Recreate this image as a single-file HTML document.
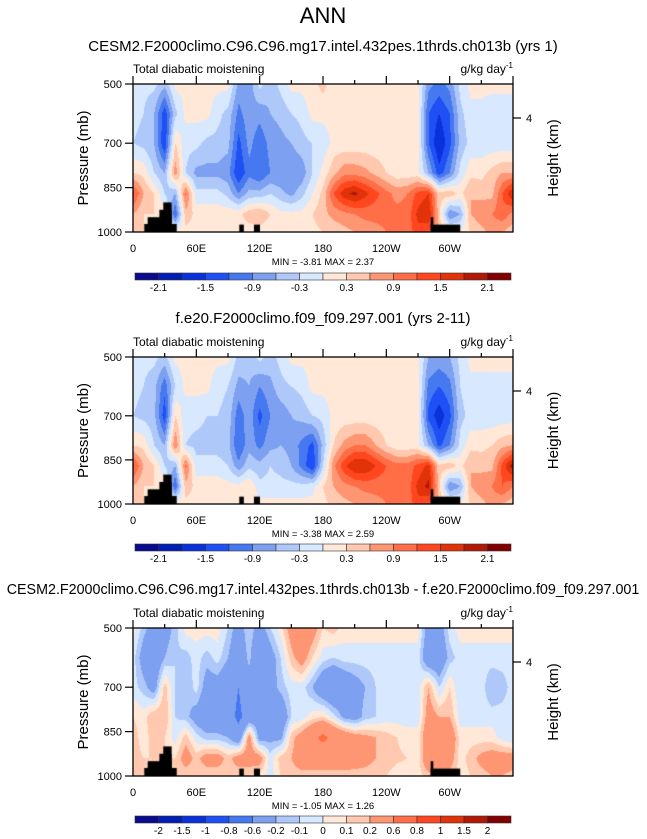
<!DOCTYPE html>
<html><head><meta charset="utf-8">
<style>
html,body{margin:0;padding:0;background:#fff;}
body{width:647px;height:839px;position:relative;overflow:hidden;font-family:"Liberation Sans",sans-serif;}
canvas{position:absolute;}
svg{position:absolute;left:0;top:0;}
</style></head>
<body>
<canvas id="c0" width="380" height="148" style="left:133px;top:84px"></canvas>
<canvas id="c1" width="380" height="147" style="left:133px;top:357px"></canvas>
<canvas id="c2" width="380" height="148" style="left:133px;top:628px"></canvas>
<svg id="ov" width="647" height="839">
<text x="323" y="23" font-size="22" text-anchor="middle">ANN</text>
</svg>
<script>
// ---- data ----
const lons = [0,10,20,30,40,50,60,70,80,90,100,110,120,130,140,150,160,170,180,190,200,210,220,230,240,250,260,270,280,290,300,310,320,330,340,350,360];
const pres = [500,600,700,800,870,940,1000];
const field1 = [
[-0.2,-0.2,-0.2,-0.5,0.1,0.1,0.1,0.1,0.1,0.1,-0.7,-0.8,-0.2,-0.5,-0.2,0.1,0.1,0.2,0.4,0.1,0.1,0.1,0.1,0.1,0.1,0.1,0.1,0.1,-0.8,-1.0,-0.8,-0.2,0.1,0.1,0.1,0.1,0.1],
[-0.2,-0.3,-0.6,-1.4,-0.4,0.1,0.1,0.1,-0.2,-0.4,-1.0,-0.7,-0.8,-0.6,-0.5,-0.3,-0.2,0.1,0.1,0.1,0.1,0.1,0.1,0.1,0.1,0.1,0.1,0.1,-1.2,-1.5,-1.2,-0.4,-0.1,-0.1,-0.2,-0.2,-0.2],
[-0.3,-0.4,-0.6,-1.5,0.3,-0.2,-0.2,-0.4,-0.4,-0.5,-1.3,-0.8,-1.1,-0.8,-0.7,-0.6,-0.4,-0.3,-0.2,0.1,0.1,0.1,0.1,0.1,0.1,0.1,0.1,0.1,-1.2,-1.8,-1.3,-0.5,-0.2,-0.2,-0.2,-0.2,-0.2],
[0.3,0.2,-0.3,-0.6,0.8,-0.3,-0.7,-0.7,-0.7,-0.8,-1.5,-1.0,-1.2,-0.9,-0.9,-0.9,-0.8,-0.3,0.1,0.5,0.8,0.8,0.7,0.5,0.3,0.1,0.1,0.1,-0.6,-1.4,-0.9,-0.2,0.2,0.2,0.4,0.6,0.6],
[1.3,0.6,0.3,-0.3,-0.6,1.0,-0.2,-0.2,-0.2,-0.4,-0.9,-0.5,-0.5,-0.3,-0.5,-0.7,-0.4,0.0,0.4,1.2,1.7,1.9,1.6,1.3,1.0,0.8,0.9,1.3,1.5,0.4,0.5,0.2,0.6,0.5,0.5,1.2,1.8],
[0.6,0.3,0.3,0.2,-1.2,0.5,0.2,0.2,0.2,0.2,0.2,0.5,0.6,0.3,0.1,0.1,0.1,0.3,0.5,0.7,0.8,0.9,1.0,1.0,1.0,1.0,1.0,1.6,1.8,0.4,-0.9,-0.6,0.6,0.8,0.9,1.1,0.8],
[0.4,0.3,0.2,0.2,0.2,0.2,0.1,0.1,0.1,0.1,0.1,0.1,0.1,0.1,0.1,0.1,0.1,0.2,0.3,0.4,0.5,0.6,0.7,0.8,0.9,0.9,1.0,1.4,1.2,0.5,0.2,0.1,0.3,0.5,0.7,0.6,0.4]
];
const field2 = [
[-0.2,-0.2,-0.2,-0.4,0.1,0.1,0.1,0.1,0.1,0.1,-0.4,-0.5,-0.2,-0.4,-0.2,0.1,0.1,0.1,0.1,0.1,0.1,0.1,0.1,0.1,0.1,0.1,0.1,0.1,-0.6,-0.7,-0.6,-0.2,0.1,0.1,0.1,0.1,0.1],
[-0.2,-0.3,-0.5,-1.1,-0.3,0.1,0.1,0.1,-0.2,-0.3,-0.7,-0.6,-0.9,-0.7,-0.4,-0.3,-0.2,0.1,0.1,0.1,0.1,0.1,0.1,0.1,0.1,0.1,0.1,0.1,-1.0,-1.2,-1.0,-0.3,-0.1,-0.1,-0.1,-0.1,-0.1],
[-0.3,-0.4,-0.5,-1.4,0.3,-0.2,-0.2,-0.3,-0.3,-0.4,-1.1,-0.7,-1.3,-0.9,-0.8,-0.6,-0.5,-0.3,-0.2,0.1,0.1,0.1,0.1,0.1,0.1,0.1,0.1,0.1,-1.3,-1.7,-1.3,-0.4,-0.2,-0.2,-0.2,-0.2,-0.2],
[0.3,0.2,-0.3,-0.6,0.9,-0.3,-0.4,-0.4,-0.4,-0.5,-1.2,-0.7,-1.0,-0.7,-0.6,-0.7,-1.0,-1.3,-0.5,0.3,0.7,0.9,0.9,0.6,0.3,0.1,0.1,0.1,-0.6,-1.3,-0.9,-0.2,0.2,0.2,0.3,0.5,0.6],
[1.3,0.6,0.3,-0.3,-0.6,1.0,-0.2,-0.2,-0.2,-0.3,-0.8,-0.4,-0.5,-0.3,-0.4,-0.6,-1.0,-1.5,-0.3,0.8,1.4,1.8,1.8,1.5,1.2,1.0,1.0,1.3,1.6,0.4,0.5,0.2,0.6,0.5,0.5,1.3,2.0],
[0.6,0.3,0.3,0.2,-1.2,0.5,0.2,0.2,0.2,0.1,0.1,0.3,-0.2,-0.2,-0.2,-0.2,-0.2,-0.1,0.3,0.6,0.8,0.9,1.0,1.0,1.0,1.0,1.0,1.6,1.9,0.4,-0.9,-0.6,0.6,0.8,0.9,1.2,0.9],
[0.4,0.3,0.2,0.2,0.2,0.2,0.1,0.1,0.1,0.1,0.1,0.1,0.1,0.1,0.1,0.1,0.1,0.1,0.2,0.4,0.5,0.6,0.7,0.8,0.9,0.9,1.0,1.4,1.2,0.5,0.2,0.1,0.3,0.5,0.7,0.6,0.4]
];
const field3 = [
[0.05,-0.15,-0.3,-0.3,-0.15,0.05,0.05,0.05,0.05,-0.1,-0.3,-0.1,-0.3,-0.1,0.05,0.3,0.4,0.3,0.1,0.15,0.05,0.05,0.05,0.05,0.05,0.05,0.05,0.05,-0.3,-0.3,-0.05,0.05,0.05,0.05,0.05,0.05,0.05],
[-0.05,-0.3,-0.4,-0.2,-0.1,-0.15,-0.05,-0.15,-0.05,-0.2,-0.4,-0.15,-0.5,-0.3,-0.1,0.15,0.3,0.1,-0.05,-0.1,-0.05,-0.05,-0.05,-0.05,-0.05,-0.05,-0.05,-0.05,-0.4,-0.4,-0.15,-0.05,-0.05,-0.05,-0.05,-0.05,-0.05],
[-0.05,-0.15,-0.3,0.15,-0.1,-0.2,-0.05,-0.3,-0.3,-0.4,-0.6,-0.3,-0.4,-0.3,-0.15,-0.05,-0.05,-0.2,-0.4,-0.5,-0.4,-0.3,-0.2,-0.1,-0.05,-0.05,-0.05,-0.05,0.2,-0.1,0.1,-0.1,-0.05,-0.05,-0.2,-0.15,-0.05],
[0.1,0.05,0.2,0.2,-0.1,-0.15,-0.3,-0.4,-0.4,-0.4,-0.7,-0.4,-0.3,-0.25,-0.4,-0.1,-0.05,0.05,0.1,-0.05,-0.25,-0.3,-0.15,-0.1,-0.05,-0.05,-0.05,-0.05,0.3,0.2,0.2,-0.05,-0.05,-0.05,-0.05,-0.05,-0.05],
[0.15,0.05,0.15,0.1,-0.05,0.15,-0.05,-0.15,-0.15,-0.2,-0.4,0.3,-0.3,-0.25,-0.25,0.15,0.3,0.5,0.7,0.5,0.4,0.3,0.25,0.2,0.15,0.1,0.05,0.05,0.4,0.3,0.4,0.05,0.05,0.05,0.05,-0.05,-0.1],
[0.15,0.1,0.1,0.1,0.1,0.3,0.15,0.3,0.3,0.15,0.3,0.3,0.3,-0.05,0.15,0.2,0.3,0.3,0.3,0.3,0.3,0.28,0.25,0.2,0.15,0.12,0.1,0.05,0.4,0.3,0.3,0.05,0.15,0.25,0.3,0.3,0.3],
[0.1,0.1,0.1,0.1,0.1,0.1,0.1,0.1,0.1,0.1,0.1,0.1,0.05,-0.05,0.1,0.15,0.15,0.15,0.15,0.15,0.15,0.15,0.15,0.15,0.1,0.05,0.05,0.05,0.15,0.15,0.15,0.05,0.1,0.15,0.2,0.2,0.15]
];
const levels12 = [-2.1,-1.8,-1.5,-1.2,-0.9,-0.6,-0.3,0,0.3,0.6,0.9,1.2,1.5,1.8,2.1];
const labels12 = ["-2.1","","-1.5","","-0.9","","-0.3","","0.3","","0.9","","1.5","","2.1"];
const levels3 = [-2,-1.5,-1,-0.8,-0.6,-0.2,-0.1,0,0.1,0.2,0.6,0.8,1,1.5,2];
const labels3 = ["-2","-1.5","-1","-0.8","-0.6","-0.2","-0.1","0","0.1","0.2","0.6","0.8","1","1.5","2"];
const xTickLons = [0,60,120,180,240,300];
const xTickLabels = ["0","60E","120E","180","120W","60W"];
const yTickP = [500,700,850,1000];
const topo = [[10.7,41.4,973],[13.9,36.6,950],[25,36.6,925],[28.7,36.6,900],[100.7,105,975],[114.6,120.3,975],[282,310,975],[282,284.5,950]];
const colors = ["#0a0a8c","#001eb4","#0a32dc","#1e50f5","#4678f0","#7da0f0","#afc8fa","#d7e8ff","#ffe8d7","#ffc8af","#ff9673","#ff6e46","#ff461e","#e1320a","#af1905","#820000"];

const panels = [
 {cv:"c0",top:84,h:148,field:field1,lev:levels12,lab:labels12,cb:273,title:"CESM2.F2000climo.C96.C96.mg17.intel.432pes.1thrds.ch013b (yrs 1)",ty:51,tf:15,mm:"MIN =  -3.81  MAX =   2.37"},
 {cv:"c1",top:357,h:147,field:field2,lev:levels12,lab:labels12,cb:544,title:"f.e20.F2000climo.f09_f09.297.001 (yrs 2-11)",ty:323,tf:15,mm:"MIN =  -3.38  MAX =   2.59"},
 {cv:"c2",top:628,h:148,field:field3,lev:levels3,lab:labels3,cb:816,title:"CESM2.F2000climo.C96.C96.mg17.intel.432pes.1thrds.ch013b - f.e20.F2000climo.f09_f09.297.001",ty:594,tf:14.3,mm:"MIN =  -1.05  MAX =   1.26"}
];
const L=133, W=380;
const NS="http://www.w3.org/2000/svg";
const ov=document.getElementById('ov');
function mk(tag,attrs,txt){const e=document.createElementNS(NS,tag);for(const k in attrs)e.setAttribute(k,attrs[k]);if(txt!==undefined)e.textContent=txt;ov.appendChild(e);return e;}
function xOf(lon){return L+lon/360*W;}
function colorFor(v,lev){let i=0;while(i<lev.length&&v>=lev[i])i++;return colors[i];}
function sample(f,lon,p){
 let ci=Math.min(Math.floor(lon/10),lons.length-2);let tx=(lon-lons[ci])/10;
 let ri=0;while(ri<pres.length-2&&p>pres[ri+1])ri++;let ty=(p-pres[ri])/(pres[ri+1]-pres[ri]);
 tx=Math.max(0,Math.min(1,tx));ty=Math.max(0,Math.min(1,ty));
 const a=f[ri][ci],b=f[ri][ci+1],c=f[ri+1][ci],d=f[ri+1][ci+1];
 return a*(1-tx)*(1-ty)+b*tx*(1-ty)+c*(1-tx)*ty+d*tx*ty;
}
panels.forEach((P,pi)=>{
 const cv=document.getElementById(P.cv);const ctx=cv.getContext('2d');
 for(let j=0;j<P.h;j++){const p=500+(j+0.5)/P.h*500;
  let prev=null,start=0;
  for(let i=0;i<=W;i++){let col=null;if(i<W){const lon=(i+0.5)/W*360;col=colorFor(sample(P.field,lon,p),P.lev);}
   if(col!==prev){if(prev){ctx.fillStyle=prev;ctx.fillRect(start,j,i-start,1);}prev=col;start=i;}}
 }
 ctx.fillStyle="#000";
 topo.forEach(t=>{const x0=t[0]/360*W,x1=t[1]/360*W,y0=(t[2]-500)/500*P.h;ctx.fillRect(x0,y0,x1-x0,P.h-y0);});
 const T=P.top,B=P.top+P.h;
 const yOf=p=>T+(p-500)/500*P.h;
 let e;
 e=mk('text',{x:323,y:P.ty,'font-size':P.tf,'text-anchor':'middle'},P.title);
 
 
 e=mk('text',{x:133,y:T-11,'font-size':12},'Total diabatic moistening');
 
 
 e=mk('text',{x:513,y:T-11,'font-size':12,'text-anchor':'end'});
 e.innerHTML='g/kg day<tspan dy="-5" font-size="8">-1</tspan>';
 
 
 e=mk('rect',{x:L,y:T,width:W,height:P.h,fill:'none',stroke:'#000','stroke-width':1.3});
 
 
 for(let lon=0;lon<=360;lon+=30){const major=lon%60===0;
  e=mk('line',{x1:xOf(lon),x2:xOf(lon),y1:T,y2:T-(major?8:4),stroke:'#000','stroke-width':1.2});
  
  }
 xTickLons.forEach((lon,k)=>{e=mk('text',{x:xOf(lon),y:B+20,'font-size':11,'text-anchor':'middle'},xTickLabels[k]);
  
  });
 yTickP.forEach(p=>{e=mk('line',{x1:L-8,x2:L,y1:yOf(p),y2:yOf(p),stroke:'#000','stroke-width':1.2});
  
  
  e=mk('text',{x:L-11,y:yOf(p)+4,'font-size':11,'text-anchor':'end'},String(p));
  
  });
 e=mk('line',{x1:L+W,x2:L+W+8,y1:T+34,y2:T+34,stroke:'#000','stroke-width':1.2});
 
 
 e=mk('text',{x:L+W+13,y:T+38,'font-size':11},'4');
 
 
 const cy=T+P.h/2;
 e=mk('text',{x:0,y:0,'font-size':15,'text-anchor':'middle',transform:`translate(88,${cy}) rotate(-90)`},'Pressure (mb)');
 
 
 e=mk('text',{x:0,y:0,'font-size':15,'text-anchor':'middle',transform:`translate(558,${cy}) rotate(-90)`},'Height (km)');
 
 
 e=mk('text',{x:323,y:B+33,'font-size':9.5,'text-anchor':'middle'},P.mm);
 
 
 const cx0=135,cw=(511-135)/16;
 colors.forEach((c,k)=>{e=mk('rect',{x:cx0+k*cw,y:P.cb,width:cw,height:7,fill:c,stroke:'#333','stroke-width':0.6});
  
  });
 P.lab.forEach((t,k)=>{if(!t)return;e=mk('text',{x:cx0+(k+1)*cw,y:P.cb+18,'font-size':10,'text-anchor':'middle'},t);
  
  });
});
</script>
</body></html>
